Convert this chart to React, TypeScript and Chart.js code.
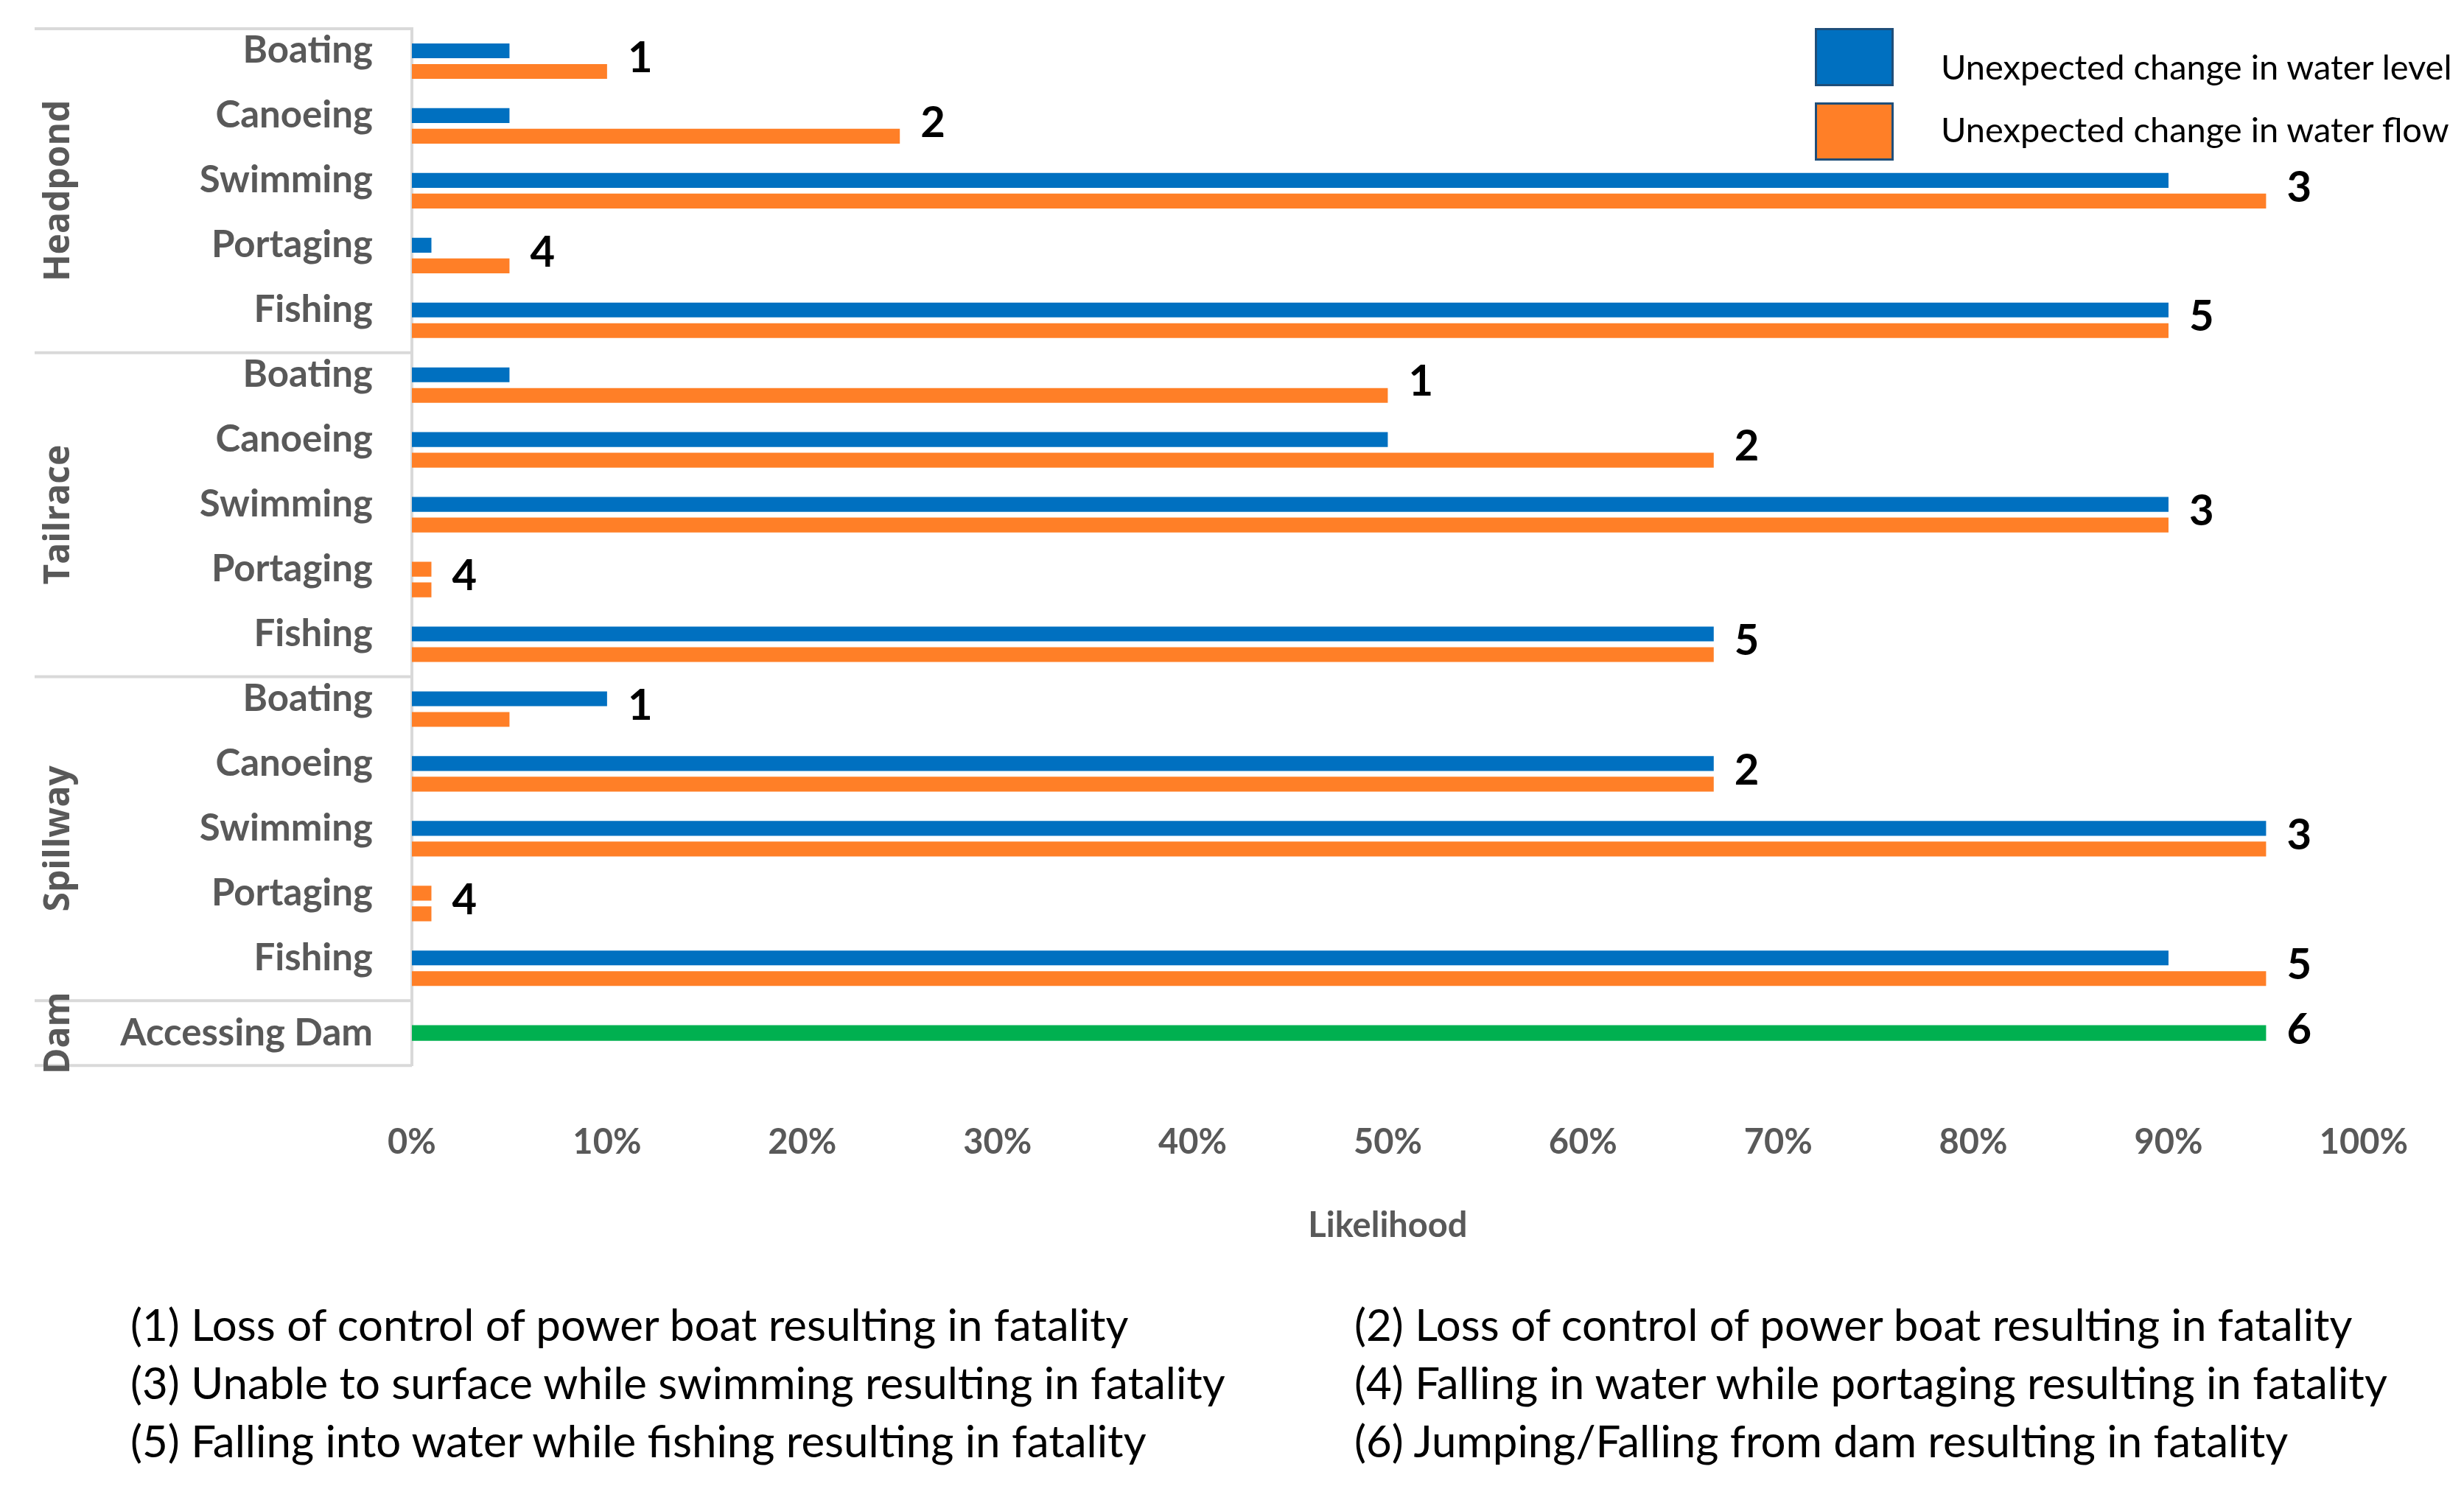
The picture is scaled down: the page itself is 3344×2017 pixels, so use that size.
import { useEffect, useRef } from 'react'
import { Chart, registerables } from 'chart.js'

Chart.register(...registerables)

const ACTIVITIES = [
  'Boating', 'Canoeing', 'Swimming', 'Portaging', 'Fishing',
  'Boating', 'Canoeing', 'Swimming', 'Portaging', 'Fishing',
  'Boating', 'Canoeing', 'Swimming', 'Portaging', 'Fishing',
  'Accessing Dam',
]
const GROUP_NAMES = ['Headpond', 'Tailrace', 'Spillway', 'Dam']
const GROUP_SIZES = [5, 5, 5, 1]

const WATER_LEVEL = [
  0.05, 0.05, 0.9, 0.01, 0.9,
  0.05, 0.5, 0.9, 0.01, 0.667,
  0.1, 0.667, 0.95, 0.01, 0.9,
  null,
]
const WATER_FLOW = [
  0.1, 0.25, 0.95, 0.05, 0.9,
  0.5, 0.667, 0.9, 0.01, 0.667,
  0.05, 0.667, 0.95, 0.01, 0.95,
  null,
]
const ACCESS_DAM = [
  null, null, null, null, null,
  null, null, null, null, null,
  null, null, null, null, null,
  0.95,
]
// rows where the first bar is drawn in the flow colour in the original
const LEVEL_ROWS_IN_FLOW_COLOUR = [8, 13]

const NOTE_NUMBERS = ['1', '2', '3', '4', '5', '1', '2', '3', '4', '5', '1', '2', '3', '4', '5', '6']

const SERIES_NAMES = ['Unexpected change in water level', 'Unexpected change in water flow']

const FOOTNOTES = [
  '(1) Loss of control of power boat resulting in fatality',
  '(2) Loss of control of power boat resulting in fatality',
  '(3) Unable to surface while swimming resulting in fatality',
  '(4) Falling in water while portaging resulting in fatality',
  '(5) Falling into water while fishing resulting in fatality',
  '(6) Jumping/Falling from dam resulting in fatality',
]

const BLUE = '#0070C0'
const ORANGE = '#FF7F27'
const GREEN = '#00B050'
const GREY = '#595959'
const RULE = '#D9D9D9'
const FONT = 'Lato, "Open Sans", sans-serif'

const annotations = {
  id: 'annotations',
  afterDraw(chart: Chart) {
    const { ctx, chartArea } = chart
    const x = chart.scales.x
    const y = chart.scales.y
    const half = (y.getPixelForValue(1) - y.getPixelForValue(0)) / 2
    ctx.save()

    // activity labels (drawn here so the axis does not pad the plot)
    ctx.font = `bold 51px ${FONT}`
    ctx.fillStyle = GREY
    ctx.textAlign = 'right'
    ctx.textBaseline = 'middle'
    ACTIVITIES.forEach((name, i) => {
      const lift = WATER_LEVEL[i] == null ? 0 : 14
      ctx.fillText(name, chartArea.left - 53, y.getPixelForValue(i) - lift)
    })

    // note numbers at the end of each row
    ctx.font = `bold 58px ${FONT}`
    ctx.fillStyle = '#000'
    ctx.textAlign = 'left'
    NOTE_NUMBERS.forEach((n, i) => {
      const v = Math.max(WATER_LEVEL[i] ?? 0, WATER_FLOW[i] ?? 0, ACCESS_DAM[i] ?? 0)
      ctx.fillText(n, x.getPixelForValue(v) + 28, y.getPixelForValue(i) - 4)
    })

    // group separators and rotated group names
    ctx.strokeStyle = RULE
    ctx.lineWidth = 4
    const edge = (i: number) => y.getPixelForValue(i) - half
    ctx.beginPath()
    ctx.moveTo(47, edge(0))
    ctx.lineTo(chartArea.left, edge(0))
    ctx.stroke()
    let start = 0
    GROUP_NAMES.forEach((name, g) => {
      const end = start + GROUP_SIZES[g]
      const top = edge(start)
      const bottom = edge(end)
      ctx.beginPath()
      ctx.moveTo(47, bottom)
      ctx.lineTo(chartArea.left, bottom)
      ctx.stroke()
      ctx.save()
      ctx.translate(80, (top + bottom) / 2)
      ctx.rotate(-Math.PI / 2)
      ctx.font = `bold 48px "Open Sans", sans-serif`
      ctx.fillStyle = GREY
      ctx.textAlign = 'center'
      ctx.textBaseline = 'middle'
      ctx.fillText(name, 0, 0)
      ctx.restore()
      start = end
    })
    ctx.restore()
  },
}

export default function App() {
  const canvasRef = useRef<HTMLCanvasElement>(null)
  const chartRef = useRef<Chart | null>(null)

  useEffect(() => {
    document.body.style.margin = '0'
    if (!canvasRef.current) return
    if (chartRef.current) chartRef.current.destroy()

    chartRef.current = new Chart(canvasRef.current, {
      type: 'bar',
      data: {
        labels: ACTIVITIES,
        datasets: [
          {
            label: SERIES_NAMES[0],
            data: WATER_LEVEL,
            backgroundColor: ACTIVITIES.map((_, i) =>
              LEVEL_ROWS_IN_FLOW_COLOUR.includes(i) ? ORANGE : BLUE,
            ),
            categoryPercentage: 0.636,
            barPercentage: 0.72,
          },
          {
            label: SERIES_NAMES[1],
            data: WATER_FLOW,
            backgroundColor: ORANGE,
            categoryPercentage: 0.636,
            barPercentage: 0.72,
          },
          {
            label: 'Accessing Dam',
            data: ACCESS_DAM,
            backgroundColor: GREEN,
            grouped: false,
            categoryPercentage: 0.636,
            barPercentage: 0.38,
          },
        ],
      },
      options: {
        indexAxis: 'y',
        responsive: false,
        animation: false,
        devicePixelRatio: 1,
        layout: { padding: { top: 39, right: 109, bottom: 325, left: 0 } },
        plugins: {
          legend: { display: false },
          tooltip: { enabled: false },
        },
        scales: {
          x: {
            min: 0,
            max: 1,
            grid: { display: false, drawTicks: false },
            border: { display: false },
            ticks: {
              stepSize: 0.1,
              padding: 76,
              color: GREY,
              font: { family: FONT, size: 47, weight: 'bold' },
              callback: (v) => `${Math.round(Number(v) * 100)}%`,
            },
            title: {
              display: true,
              text: 'Likelihood',
              color: GREY,
              padding: { top: -19, bottom: 0 },
              font: { family: FONT, size: 47, weight: 'bold' },
            },
          },
          y: {
            grid: { display: false, drawTicks: false },
            border: { display: true, color: RULE, width: 4 },
            ticks: { display: false },
            afterFit: (scale) => {
              scale.width = 559
            },
          },
        },
      },
      plugins: [annotations],
    })

    return () => {
      if (chartRef.current) {
        chartRef.current.destroy()
        chartRef.current = null
      }
    }
  }, [])

  const legendColours = [BLUE, ORANGE]
  const legendTextTops = [90, 175]

  return (
    <div style={{ position: 'relative', width: 3344, height: 2017, fontFamily: FONT, background: '#fff' }}>
      <canvas ref={canvasRef} width={3344} height={2017} style={{ display: 'block' }} />

      {/* legend */}
      {SERIES_NAMES.map((name, i) => (
        <div key={name}>
          <span
            style={{
              position: 'absolute',
              left: 2463,
              top: 38 + i * 101,
              width: 101,
              height: 73,
              background: legendColours[i],
              border: '3px solid #1F4E79',
            }}
          />
          <span
            style={{
              position: 'absolute',
              left: 2634,
              top: legendTextTops[i] - 30,
              lineHeight: '60px',
              fontSize: 47,
              color: '#000',
              whiteSpace: 'nowrap',
            }}
          >
            {name}
          </span>
        </div>
      ))}

      {/* footnotes */}
      <div
        style={{
          position: 'absolute',
          left: 177,
          top: 1758,
          display: 'grid',
          gridTemplateColumns: '1661px auto',
          fontSize: 60,
          lineHeight: '79px',
          color: '#000',
          whiteSpace: 'nowrap',
        }}
      >
        {FOOTNOTES.map((t) => (
          <div key={t}>{t}</div>
        ))}
      </div>
    </div>
  )
}
